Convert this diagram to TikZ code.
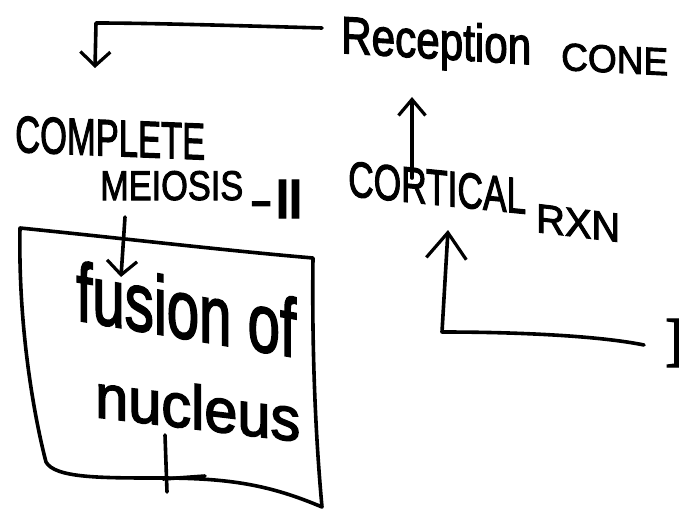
\documentclass[tikz,border=0pt]{standalone}
\usepackage{fontspec}
\usepackage{graphicx}
\setmainfont{Liberation Sans}
\newfontfamily\handfont{Liberation Sans}[FakeBold=2.5]
\newfontfamily\romanfont{DejaVu Sans}[FakeBold=2]
\newfontfamily\serifletter{Liberation Serif}[FakeBold=2]
\usetikzlibrary{arrows.meta}
% stretch a word to a given width and height
\newcommand{\hw}[3]{\resizebox{#1}{#2}{\handfont #3}}

\begin{document}
\begin{tikzpicture}[x=1pt,y=-1pt,
  ink/.style={line width=3.6pt, line cap=round, line join=round},
  arr/.style={ink, -{Straight Barb[length=14pt,width=30pt,line width=3.2pt]}},
  lbl/.style={inner sep=0pt, anchor=base west}]
\useasboundingbox[fill=white] (0,0) rectangle (679,516);

% words (yslant keeps the strokes upright while the line of writing drifts down)
\node[lbl, yslant=-0.06] (recep) at (341,53) {\hw{190pt}{38pt}{Reception}};
\node[lbl, yslant=-0.05] (cone) at (561,70) {\hw{107pt}{27pt}{CONE}};
\node[lbl, yslant=-0.04] (complete) at (15,152) {\hw{190pt}{36pt}{COMPLETE}};
\node[lbl] (meiosis) at (100,200) {\hw{143pt}{29pt}{MEIOSIS}};
\node[lbl] (two) at (249,218) {\hw{56pt}{38pt}{\romanfont -Ⅱ}};
\node[lbl, yslant=-0.1] (cortical) at (348,196) {\hw{178pt}{35pt}{CORTICAL}};
\node[lbl, yslant=-0.12] (rxn) at (536,232) {\hw{84pt}{28pt}{RXN}};
\node[lbl, yslant=-0.17] (fusion) at (76,320) {\hw{220pt}{60pt}{fusion of}};
\node[lbl, yslant=-0.12] (nucleus) at (95,417) {\hw{205pt}{45pt}{nucleus}};
\node[lbl] (one) at (664,367) {\hw{30pt}{48pt}{\serifletter I}};

% connector ends
\coordinate (recepL) at (322,28);
\coordinate (completeT) at (95,68);
\coordinate (meiosisB) at (125,217);
\coordinate (fusionT) at (121,277);
\coordinate (corticalT) at (412,178);
\coordinate (recepB) at (412,97);
\coordinate (oneL) at (644,345);
\coordinate (rxnB) at (448,230);

% box round the fusion step
\draw[ink] (20,228) .. controls (120,238) and (220,250) .. (313,258)
  .. controls (312,330) and (314,420) .. (322,507)
  .. controls (270,485) and (230,478) .. (160,478)
  .. controls (100,478) and (55,478) .. (46,462)
  .. controls (35,420) and (18,330) .. (20,228) -- cycle;
\draw[ink] (165,435) -- (167,492);
\draw[ink] (163,479) -- (205,476);

% arrows
\draw[arr] (recepL) .. controls (250,26) and (150,23) .. (96,23) -- (completeT);
\draw[arr] (meiosisB) -- (fusionT);
\draw[arr, -{Straight Barb[length=16pt,width=27pt,line width=3.2pt]}] (corticalT) -- (recepB);
\draw[arr, -{Straight Barb[length=26pt,width=40pt,line width=3.2pt]}] (oneL) .. controls (600,336) and (520,332) .. (442,332) -- (rxnB);
\end{tikzpicture}
\end{document}
